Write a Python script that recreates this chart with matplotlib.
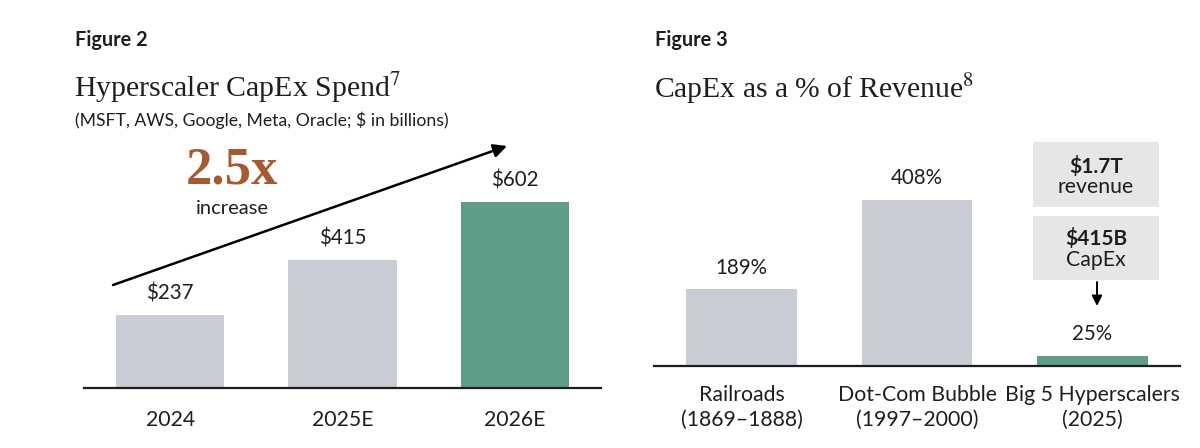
import matplotlib
matplotlib.use('Agg')
import matplotlib.pyplot as plt
from matplotlib.patches import Rectangle, FancyArrowPatch

# Daten
years = ['2024', '2025E', '2026E']
capex_spend = [237, 415, 602]
spend_labels = ['$237', '$415', '$602']

eras = ['Railroads\n(1869–1888)', 'Dot-Com Bubble\n(1997–2000)', 'Big 5 Hyperscalers\n(2025)']
capex_pct = [189, 408, 25]
pct_labels = ['189%', '408%', '25%']

GREY = '#C9CCD5'
GREEN = '#5F9D88'
BROWN = '#A65A33'
DARK = '#1e1e1e'
SANS = 'Lato'
SERIF = 'Liberation Serif'

plt.rcParams['font.family'] = [SANS, 'DejaVu Sans']
plt.rcParams['mathtext.fontset'] = 'stix'

W, H = 1200, 448
fig = plt.figure(figsize=(W / 100, H / 100), dpi=100)


def fx(px):
    return px / W


def fy(py):
    return 1 - py / H


def add_bar_axes(x0, x1, base, top, scale, pad):
    # Achse in Pixelkoordinaten platzieren, Skala in px pro Einheit
    ax = fig.add_axes([fx(x0), fy(base), fx(x1 - x0), (base - top) / H])
    ax.set_xlim(-0.5, 2.5)
    ax.set_ylim(0, (base - top) / scale)
    for s in ['top', 'right', 'left']:
        ax.spines[s].set_visible(False)
    ax.spines['bottom'].set_linewidth(1.6)
    ax.spines['bottom'].set_color(DARK)
    ax.set_yticks([])
    ax.tick_params(axis='x', length=0, pad=pad, labelsize=15.3, colors=DARK)
    ax.patch.set_alpha(0)
    return ax


# ---------- Figure 2 ----------
ax1 = add_bar_axes(84, 601, 388, 120, 0.309, 15.5)
ax1.bar(range(3), capex_spend, width=0.63, color=[GREY, GREY, GREEN])
ax1.set_xticks(range(3))
ax1.set_xticklabels(years)
for i, v in enumerate(capex_spend):
    ax1.annotate(spend_labels[i], (i, v), xytext=(0, 15.5), textcoords='offset points',
                 ha='center', va='center', fontsize=14.8, color=DARK)

fig.add_artist(FancyArrowPatch((fx(113), fy(285)), (fx(507), fy(146)),
                               transform=fig.transFigure, arrowstyle='-|>',
                               mutation_scale=20, lw=1.8, color='black',
                               shrinkA=0, shrinkB=0))

fig.text(fx(75), fy(40), 'Figure 2', fontsize=14.3, fontweight='bold', va='center', color=DARK)
fig.text(fx(74), fy(97), 'Hyperscaler CapEx Spend$^{7}$', family=SERIF, fontsize=21.5,
         va='baseline', color=DARK)
fig.text(fx(75), fy(120), '(MSFT, AWS, Google, Meta, Oracle; $ in billions)', fontsize=12.7,
         va='center', color=DARK)
fig.text(fx(232), fy(183), '2.5x', family=SERIF, fontsize=38, fontweight='bold',
         ha='center', va='baseline', color=BROWN)
fig.text(fx(232), fy(208), 'increase', fontsize=14.5, ha='center', va='center', color=DARK)

# ---------- Figure 3 ----------
ax2 = add_bar_axes(654, 1180, 366, 120, 0.407, 14)
ax2.bar(range(3), capex_pct, width=0.63, color=[GREY, GREY, GREEN])
ax2.set_xticks(range(3))
ax2.set_xticklabels(eras, linespacing=1.3)
for i, v in enumerate(capex_pct):
    ax2.annotate(pct_labels[i], (i, v), xytext=(0, 15.5), textcoords='offset points',
                 ha='center', va='center', fontsize=14.8, color=DARK)

fig.text(fx(655), fy(40), 'Figure 3', fontsize=14.3, fontweight='bold', va='center', color=DARK)
fig.text(fx(654), fy(98), 'CapEx as a % of Revenue$^{8}$', family=SERIF, fontsize=21.3,
         va='baseline', color=DARK)

# Kästen rechts
box_fill = '#E6E6E6'
for (y0, y1) in [(142, 207), (216, 280)]:
    fig.patches.append(Rectangle((fx(1033), fy(y1)), fx(1159 - 1033), (y1 - y0) / H,
                                 transform=fig.transFigure, facecolor=box_fill, edgecolor='none'))
fig.text(fx(1096), fy(166), '$1.7T', fontsize=15, fontweight='bold', ha='center', va='center', color=DARK)
fig.text(fx(1096), fy(187), 'revenue', fontsize=15.3, ha='center', va='center', color=DARK)
fig.text(fx(1096), fy(238), '$415B', fontsize=15, fontweight='bold', ha='center', va='center', color=DARK)
fig.text(fx(1096), fy(260), 'CapEx', fontsize=15.3, ha='center', va='center', color=DARK)
fig.add_artist(FancyArrowPatch((fx(1097), fy(282)), (fx(1097), fy(306)),
                               transform=fig.transFigure, arrowstyle='-|>',
                               mutation_scale=15, lw=1.4, color='black',
                               shrinkA=0, shrinkB=0))

fig.savefig('out.png', dpi=100, facecolor='white')
